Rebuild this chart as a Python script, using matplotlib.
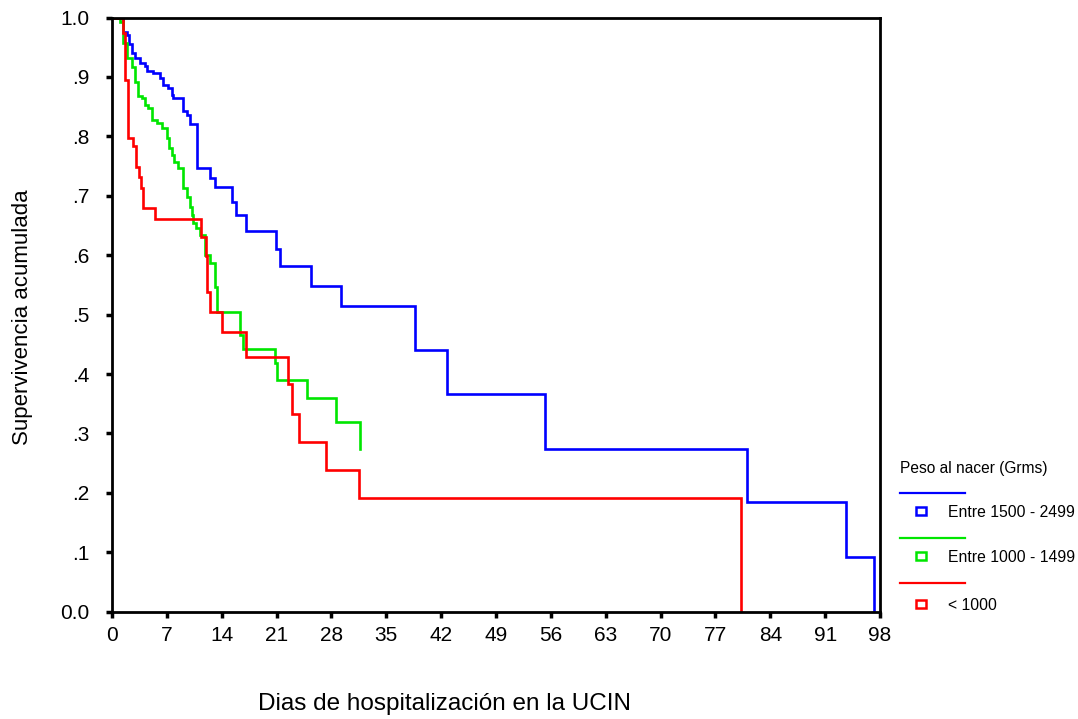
import matplotlib
matplotlib.use("Agg")
import matplotlib.pyplot as plt
from matplotlib.lines import Line2D
from matplotlib.patches import Rectangle

plt.rcParams['font.family'] = ['Liberation Sans', 'DejaVu Sans']

# Kaplan-Meier step data (days, cumulative survival after each event)
blue_t = [0, 1.4, 1.9, 2.2, 2.5, 2.9, 3.6, 4.2, 4.5, 5.2, 6.1, 6.5, 7.2, 7.7, 7.8,
          9.1, 9.6, 10.0, 10.8, 12.5, 13.2, 15.3, 15.8, 17.1, 20.9, 21.5, 25.4,
          29.2, 38.7, 42.7, 55.3, 81.0, 93.7, 97.2]
blue_s = [1.0, 0.976, 0.970, 0.955, 0.941, 0.932, 0.924, 0.919, 0.910, 0.907, 0.898,
          0.887, 0.882, 0.870, 0.865, 0.842, 0.836, 0.820, 0.747, 0.730, 0.714, 0.690,
          0.667, 0.641, 0.6105, 0.582, 0.548, 0.515, 0.441, 0.367, 0.274, 0.185,
          0.092, 0.0]

green_t = [0, 1.02, 1.34, 1.88, 2.52, 2.94, 3.32, 3.79, 4.2, 4.6, 5.07, 5.7, 6.35,
           6.99, 7.28, 7.62, 7.92, 8.43, 9.07, 9.54, 9.96, 10.18, 10.34, 10.73,
           11.24, 11.88, 12.5, 13.15, 13.37, 16.27, 16.77, 20.8, 21.1, 24.9, 28.6, 31.7]
green_s = [1.0, 0.993, 0.957, 0.932, 0.917, 0.892, 0.868, 0.865, 0.853, 0.848, 0.828,
           0.823, 0.814, 0.7975, 0.781, 0.769, 0.757, 0.746, 0.713, 0.698, 0.681,
           0.668, 0.6545, 0.646, 0.634, 0.600, 0.587, 0.547, 0.505, 0.466, 0.442,
           0.419, 0.390, 0.359, 0.320, 0.273]

red_t = [0, 1.44, 1.66, 2.08, 2.72, 3.07, 3.4, 3.7, 3.9, 5.43, 11.3, 12.0, 12.13,
         12.45, 14.1, 17.1, 22.4, 23.0, 23.9, 27.3, 31.5, 80.3]
red_s = [1.0, 0.974, 0.895, 0.7975, 0.783, 0.749, 0.732, 0.713, 0.680, 0.661, 0.631,
         0.598, 0.538, 0.505, 0.471, 0.429, 0.383, 0.333, 0.286, 0.239, 0.191, 0.0]

x_ticks = list(range(0, 99, 7))
y_ticks = [0.0, 0.1, 0.2, 0.3, 0.4, 0.5, 0.6, 0.7, 0.8, 0.9, 1.0]
y_labels = ['0.0', '.1', '.2', '.3', '.4', '.5', '.6', '.7', '.8', '.9', '1.0']

group_names = ['Entre 1500 - 2499', 'Entre 1000 - 1499', '< 1000']
colors = ['#0000FF', '#00E600', '#FF0000']

W, H = 1078, 719
fig = plt.figure(figsize=(W / 100, H / 100), dpi=100)
ax = fig.add_axes([112 / W, 1 - 611.7 / H, (880 - 112) / W, (611.7 - 17.5) / H])

for t, s, c in zip([blue_t, green_t, red_t], [blue_s, green_s, red_s], colors):
    ax.step(t, s, where='post', color=c, lw=1.9, solid_joinstyle='miter')

ax.set_xlim(0, 98)
ax.set_ylim(0, 1.0)
ax.set_xticks(x_ticks)
ax.set_xticklabels([str(v) for v in x_ticks])
ax.set_yticks(y_ticks)
ax.set_yticklabels(y_labels)
for sp in ax.spines.values():
    sp.set_linewidth(2.0)
ax.tick_params(axis='both', direction='out', length=4, width=2.5, labelsize=15)
ax.tick_params(axis='x', pad=6)
ax.tick_params(axis='y', pad=12)

ax.set_ylabel('Supervivencia acumulada', fontsize=16)
ax.yaxis.set_label_coords((22 - 112) / 768, (611.7 - 317) / 594.2)
ax.yaxis.label.set_va('center')
fig.text(444 / W, 1 - 710 / H, 'Dias de hospitalización en la UCIN',
         fontsize=17.5, ha='center', va='baseline')

# Legend (SPSS style)
fig.text(900 / W, 1 - 469 / H, 'Peso al nacer (Grms)', fontsize=11.2, ha='left', va='center')
line_y = [492.5, 537.5, 583]
sq_y = [511, 556, 603.5]
for name, c, ly, sy in zip(group_names, colors, line_y, sq_y):
    fig.add_artist(Line2D([900 / W, 965 / W], [1 - ly / H, 1 - ly / H], color=c, lw=1.6))
    fig.add_artist(Rectangle(((916) / W, 1 - (sy + 4) / H), 10 / W, 8 / H,
                             fill=False, edgecolor=c, lw=1.8))
    fig.text(948 / W, 1 - (sy + 1.5) / H, name, fontsize=11.3, ha='left', va='center')

fig.savefig('out.png', dpi=100)
